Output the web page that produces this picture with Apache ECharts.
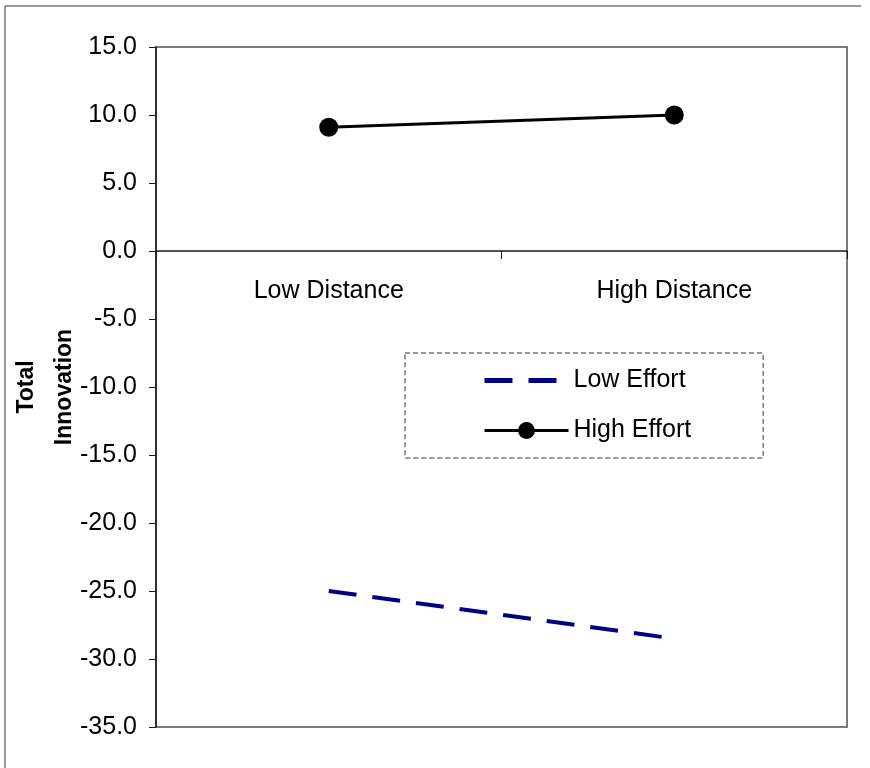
<!DOCTYPE html>
<html>
<head>
<meta charset="utf-8">
<script src="https://cdn.jsdelivr.net/npm/echarts@6/dist/echarts.min.js"></script>
<style>
html,body{margin:0;padding:0;background:#fff;}
#chart{width:870px;height:768px;}
</style>
</head>
<body>
<div id="chart"></div>
<script>
const categories = ['Low Distance', 'High Distance'];
const lowEffort = [-25.0, -28.5];
const highEffort = [9.1, 10.0];
const seriesNames = ['Low Effort', 'High Effort'];
const yTitle = 'Total\nInnovation';

const chart = echarts.init(document.getElementById('chart'), null, {renderer: 'canvas'});
const font = 'Arial, "Liberation Sans", sans-serif';
chart.setOption({
  animation: false,
  backgroundColor: '#fff',
  grid: {left: 156, right: 23, top: 47, bottom: 41, containLabel: false, outerBoundsMode: 'none',
         show: true, borderColor: '#505050', borderWidth: 1.5, backgroundColor: 'transparent'},
  xAxis: {
    type: 'category',
    data: categories,
    axisLine: {onZero: true, lineStyle: {color: '#1a1a1a', width: 1.5}},
    axisTick: {show: true, length: 8, lineStyle: {color: '#1a1a1a'}},
    axisLabel: {color: '#000', fontFamily: font, fontSize: 25, margin: -448},
    splitLine: {show: false}
  },
  yAxis: {
    type: 'value',
    min: -35, max: 15, interval: 5,
    name: yTitle,
    nameLocation: 'middle',
    nameGap: 72,
    nameMoveOverlap: false,
    nameRotate: 90,
    nameTextStyle: {color: '#000', fontFamily: font, fontSize: 23, fontWeight: 'bold', lineHeight: 38, align: 'center'},
    axisLine: {show: true, lineStyle: {color: '#1a1a1a', width: 1.5}},
    axisTick: {show: true, length: 7, lineStyle: {color: '#1a1a1a'}},
    axisLabel: {color: '#000', fontFamily: font, fontSize: 25, margin: 19, formatter: v => v.toFixed(1)},
    splitLine: {show: false}
  },
  legend: {
    orient: 'vertical',
    left: 405, top: 353,
    padding: [15, 72, 15, 77],
    itemWidth: 84, itemHeight: 21, itemGap: 25,
    selectedMode: false,
    borderColor: '#333', borderWidth: 1, borderType: [5, 3],
    textStyle: {color: '#000', fontFamily: font, fontSize: 25, lineHeight: 24},
    data: [
      {name: seriesNames[0], lineStyle: {color: '#000080', width: 5, type: [28, 16]}, itemStyle: {opacity: 0}},
      {name: seriesNames[1], lineStyle: {color: '#000', width: 3}}
    ]
  },
  graphic: [
    {type: 'line', shape: {x1: 5, y1: 6, x2: 5, y2: 768}, style: {stroke: '#333', lineWidth: 1}},
    {type: 'line', shape: {x1: 5, y1: 6, x2: 861, y2: 6}, style: {stroke: '#333', lineWidth: 1}}
  ],
  series: [
    {
      name: seriesNames[0], type: 'line', data: lowEffort,
      symbol: 'none',
      lineStyle: {color: '#000080', width: 4, type: [28, 16]},
      itemStyle: {color: '#000080'}
    },
    {
      name: seriesNames[1], type: 'line', data: highEffort,
      symbol: 'circle', symbolSize: 19,
      lineStyle: {color: '#000', width: 3},
      itemStyle: {color: '#000'}
    }
  ]
});
</script>
</body>
</html>
